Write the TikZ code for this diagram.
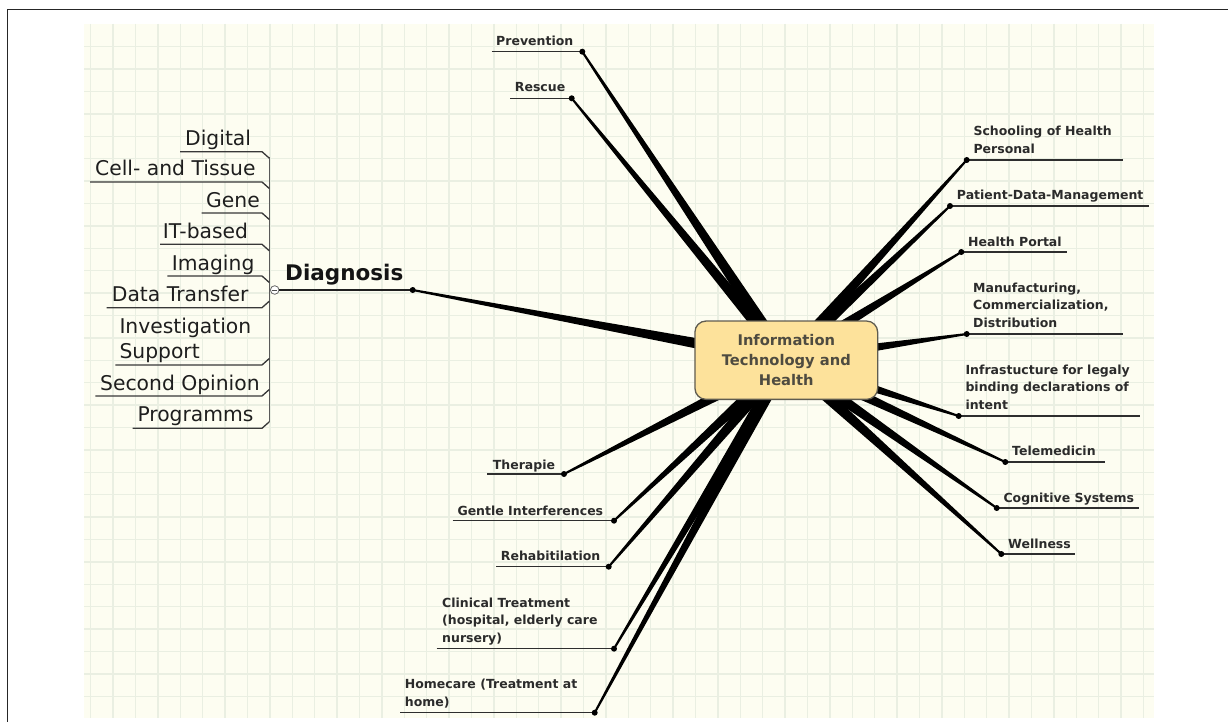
\documentclass[tikz,border=0pt]{standalone}
\usepackage{fontspec}
\setmainfont{DejaVu Sans}
\usetikzlibrary{calc}

\definecolor{gridbg}{HTML}{FDFDF1}
\definecolor{gridln}{HTML}{EAEFE2}
\definecolor{hubfill}{HTML}{FDE29B}
\definecolor{hubdraw}{HTML}{5F5C50}
\definecolor{hubtext}{HTML}{4E4B40}
\definecolor{lbltext}{HTML}{2B2B2B}
\definecolor{subtext}{HTML}{1E1E1E}

% tapered spoke: wide at the hub (#1), narrow at the leaf (#2)
\newcommand{\spoke}[2]{%
  \fill[black] ($(#1)!6.4pt!90:(#2)$) -- ($(#2)!1pt!-90:(#1)$)
    -- ($(#2)!1pt!90:(#1)$) -- ($(#1)!6.4pt!-90:(#2)$) -- cycle;}

% labels are anchored at the baseline of their last line
\tikzset{
  leaflbl/.style={anchor=base west, inner sep=0pt, align=left,
    font=\fontsize{12.5}{17.4}\selectfont\bfseries, text=lbltext},
  sublbl/.style={anchor=base west, inner sep=0pt, align=left,
    font=\fontsize{20.3}{24.5}\selectfont, text=subtext},
  uline/.style={draw=black!82, line width=1.4pt},
  subline/.style={draw=black!78, line width=1.3pt},
  hub/.style={draw=hubdraw, line width=1.3pt, fill=hubfill,
    rounded corners=11pt, minimum width=182.7pt, minimum height=78.3pt,
    align=center, font=\fontsize{14.7}{20}\selectfont\bfseries,
    text=hubtext, inner sep=0pt},
}

\begin{document}
\begin{tikzpicture}[x=1pt,y=-1pt]
\useasboundingbox (0,0) rectangle (1228,722);
\fill[white] (0,0) rectangle (1228,722);

% page frame
\coordinate (frameA) at (7.3,722);
\coordinate (frameB) at (7.3,9.5);
\coordinate (frameC) at (1228,9.5);
\draw[black!85, line width=1.2pt] (frameA) -- (frameB) -- (frameC);

% squared paper
\fill[gridbg] (84,24) rectangle (1154,718);
\foreach \i in {0,...,47} \draw[gridln, line width=1.3pt] (90.7+22.4*\i,24) -- (90.7+22.4*\i,718);
\foreach \j in {0,...,29} \draw[gridln, line width=1.3pt] (84,46.7+22.4*\j) -- (1154,46.7+22.4*\j);

% hub centre and leaf points
\coordinate (hubc) at (786.3,360.2);

\coordinate (prev) at (582.3,51.7);   \coordinate (prev-l) at (491.7,51.7);
\coordinate (resc) at (571.7,98.3);   \coordinate (resc-l) at (510,98.3);
\coordinate (diag) at (412.7,290);
\coordinate (ther) at (564,474);      \coordinate (ther-l) at (487.3,474);
\coordinate (gent) at (614,520.7);    \coordinate (gent-l) at (452.7,520.7);
\coordinate (rehab) at (608.7,566.7); \coordinate (rehab-l) at (496,566.7);
\coordinate (clin) at (614,648.7);    \coordinate (clin-l) at (436.7,648.7);
\coordinate (home) at (594.7,712.7);  \coordinate (home-l) at (400,712.7);

\coordinate (schl) at (966.7,160);    \coordinate (schl-r) at (1122.7,160);
\coordinate (pdm) at (950,206);       \coordinate (pdm-r) at (1148.7,206);
\coordinate (portal) at (961.3,252);  \coordinate (portal-r) at (1067.3,252);
\coordinate (manu) at (966.7,334);    \coordinate (manu-r) at (1122.7,334);
\coordinate (infra) at (958.7,416);   \coordinate (infra-r) at (1140,416);
\coordinate (tele) at (1005.3,462);   \coordinate (tele-r) at (1104.7,462);
\coordinate (cogn) at (996.7,508);    \coordinate (cogn-r) at (1139,508);
\coordinate (well) at (1001.3,554);   \coordinate (well-r) at (1075.3,554);

% spokes
\foreach \leaf in {prev,resc,diag,ther,gent,rehab,clin,home,
                   schl,pdm,portal,manu,infra,tele,cogn,well}
  \spoke{hubc}{\leaf};

% central topic
\node[hub] (hubnode) at (hubc) {Information\\Technology and\\Health};

% underlines of the leaves
\foreach \a/\b in {prev-l/prev, resc-l/resc, ther-l/ther, gent-l/gent,
                   rehab-l/rehab, clin-l/clin, home-l/home,
                   schl/schl-r, pdm/pdm-r, portal/portal-r, manu/manu-r,
                   infra/infra-r, tele/tele-r, cogn/cogn-r, well/well-r}
  \draw[uline] (\a) -- (\b);

% leaf labels
\node[leaflbl] (t-prev) at (496,45.7) {Prevention};
\node[leaflbl] (t-resc) at (514.7,91.7) {Rescue};
\node[leaflbl] (t-ther) at (492.7,469.3) {Therapie};
\node[leaflbl] (t-gent) at (457.3,515.3) {Gentle Interferences};
\node[leaflbl] (t-rehab) at (500.7,560.7) {Rehabitilation};
\node[leaflbl] (t-clin) at (442,642.3) {Clinical Treatment\\(hospital, elderly care\\nursery)};
\node[leaflbl] (t-home) at (404.7,706) {Homecare (Treatment at\\home)};

\node[leaflbl] (t-schl) at (973.3,153.3) {Schooling of Health\\Personal};
\node[leaflbl] (t-pdm) at (956.7,200) {Patient-Data-Management};
\node[leaflbl] (t-portal) at (968,246.7) {Health Portal};
\node[leaflbl] (t-manu) at (973,327.3) {Manufacturing,\\Commercialization,\\Distribution};
\node[leaflbl] (t-infra) at (965.3,409.3) {Infrastucture for legaly\\binding declarations of\\intent};
\node[leaflbl] (t-tele) at (1012,455.3) {Telemedicin};
\node[leaflbl] (t-cogn) at (1003.3,502) {Cognitive Systems};
\node[leaflbl] (t-well) at (1008,548.3) {Wellness};

% Diagnosis topic with its collapse button
\node[circle, draw=black!60, fill=white, line width=0.8pt, minimum size=8.6pt, inner sep=0pt] (fold) at (274.7,290) {};
\draw[black!70, line width=0.8pt] ($(fold.center)+(-2.4,0)$) -- ($(fold.center)+(2.4,0)$);
\draw[black!88, line width=1.5pt] (fold.east) -- (diag);
\node[anchor=base west, inner sep=0pt, font=\fontsize{21.5}{24}\selectfont\bfseries, text=black!92] (t-diag) at (285,280) {Diagnosis};

% subtopics of Diagnosis
\coordinate (trunk-top) at (269.3,157.3);
\coordinate (trunk-bot) at (269.3,421.7);
\draw[black!65, line width=1.2pt] (trunk-top) -- (trunk-bot);
\foreach \k/\uy/\lx/\tx/\by/\d/\txt in {
   1/151.7/180/185/146/1/{Digital},
   2/182/90/95/176/1/{Cell- and Tissue},
   3/213/201.7/206/207.3/1/{Gene},
   4/244.3/160/162.7/238.7/1/{IT-based},
   5/276/167.3/171.7/270/1/{Imaging},
   6/307.7/106.7/111.7/301.7/-1/{Data Transfer},
   7/365/115.3/119.3/358.3/-1/{Investigation\\Support},
   8/396/95.3/100/390.7/-1/{Second Opinion},
   9/428.3/132.7/137.3/421.7/-1/{Programms}}{
  \coordinate (s\k-a) at (\lx,\uy);
  \coordinate (s\k-b) at (262,\uy);
  \coordinate (s\k-c) at (269.3,\uy+6.5*\d);
  \draw[subline] (s\k-a) -- (s\k-b) -- (s\k-c);
  \node[sublbl] (s\k-t) at (\tx,\by) {\txt};
}

% leaf dots
\foreach \leaf in {prev,resc,diag,ther,gent,rehab,clin,home,
                   schl,pdm,portal,manu,infra,tele,cogn,well}
  \fill[black] (\leaf) circle (3);
\end{tikzpicture}
\end{document}
